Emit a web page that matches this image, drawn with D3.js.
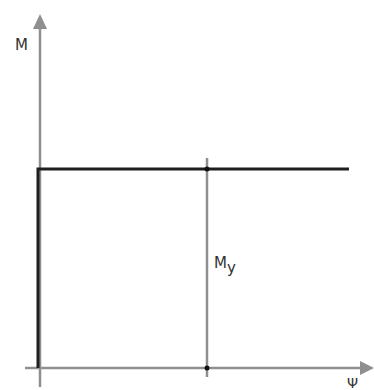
<!DOCTYPE html>
<html>
<head>
<meta charset="utf-8">
<script src="https://cdn.jsdelivr.net/npm/d3@7"></script>
<style>
  body { margin: 0; background: #fff; }
  text { font-family: "DejaVu Sans", Verdana, sans-serif; fill: #333; }
</style>
</head>
<body>
<div id="chart"></div>
<script>
'use strict';

// moment-curvature curve (rigid - perfectly plastic)
var psiValues = [0, 0, 1, 1.84];
var momentValues = [0, 1, 1, 1];
// yield marker
var yieldPsi = [1];
var yieldMoment = [1];
var axisLabels = ['M', '\u03A8'];

var width = 374, height = 390;

var svg = d3.select('#chart').append('svg')
    .attr('width', width)
    .attr('height', height);

var x = d3.scaleLinear().domain([0, 1]).range([38, 207]);
var y = d3.scaleLinear().domain([0, 1]).range([368, 169]);

var axisColor = '#8f8f8f';

// axes lines
svg.append('line')
    .attr('x1', 40).attr('x2', 40)
    .attr('y1', 387).attr('y2', 26)
    .attr('stroke', axisColor).attr('stroke-width', 2.5);

svg.append('line')
    .attr('x1', 25).attr('x2', 364)
    .attr('y1', y(0)).attr('y2', y(0))
    .attr('stroke', axisColor).attr('stroke-width', 2.5);

// arrow heads
svg.append('path')
    .attr('d', 'M40,14 L47,29 L33,29 Z')
    .attr('fill', axisColor);
svg.append('path')
    .attr('d', 'M374,' + y(0) + ' L360,' + (y(0) - 7) + ' L360,' + (y(0) + 7) + ' Z')
    .attr('fill', axisColor);

// guide at yield curvature
svg.append('line')
    .attr('x1', x(yieldPsi[0])).attr('x2', x(yieldPsi[0]))
    .attr('y1', y(yieldMoment[0]) - 11).attr('y2', y(0) + 9)
    .attr('stroke', axisColor).attr('stroke-width', 2.5);

// curve
var line = d3.line()
    .x(function (d, i) { return x(psiValues[i]); })
    .y(function (d, i) { return y(momentValues[i]); });

svg.append('path')
    .datum(psiValues)
    .attr('d', line)
    .attr('fill', 'none')
    .attr('stroke', '#1e1e1e')
    .attr('stroke-width', 3);

// dots
svg.selectAll('.dot')
    .data([[yieldPsi[0], yieldMoment[0]], [yieldPsi[0], 0]])
    .enter().append('circle')
    .attr('class', 'dot')
    .attr('cx', function (d) { return x(d[0]); })
    .attr('cy', function (d) { return y(d[1]); })
    .attr('r', 2.5)
    .attr('fill', '#111');

// labels
svg.append('text').attr('x', 15).attr('y', 50)
    .style('font-size', '15px').text(axisLabels[0]);

svg.append('text').attr('x', 347).attr('y', 388)
    .style('font-size', '14px').text(axisLabels[1]);

var my = svg.append('text').attr('x', 214).attr('y', 268)
    .style('font-size', '15px');
my.append('tspan').text('M');
my.append('tspan').attr('dy', 5).style('font-size', '15px').text('y');
</script>
</body>
</html>
